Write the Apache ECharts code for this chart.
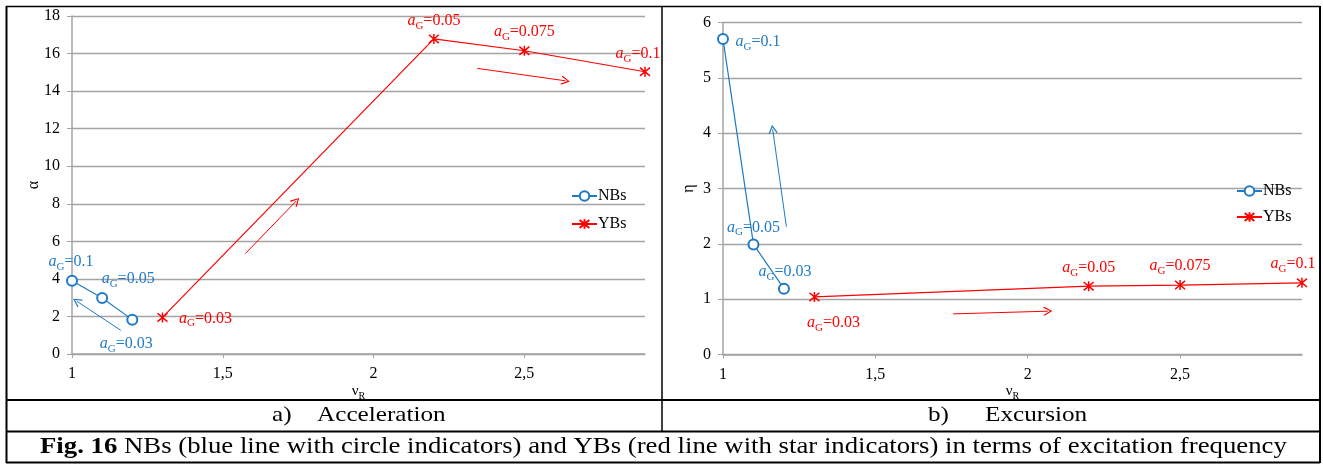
<!DOCTYPE html>
<html><head><meta charset="utf-8">
<script src="https://cdn.jsdelivr.net/npm/echarts@6/dist/echarts.min.js"></script>
<style>html,body{margin:0;padding:0;background:#fff}#c{width:1323px;height:464px}</style>
</head><body><div id="c"></div>
<script>
// ---- data ----
const nbsX = [1, 1.1, 1.2];
const nbsAG = ['0.1', '0.05', '0.03'];
const nbsAlpha = [3.9, 2.98, 1.83];
const nbsEta = [5.7, 1.99, 1.19];

const ybsX = [1.3, 2.2, 2.5, 2.9];
const ybsAG = ['0.03', '0.05', '0.075', '0.1'];
const ybsAlpha = [1.95, 16.78, 16.15, 15.03];
const ybsEta = [1.04, 1.235, 1.255, 1.295];

const xTicks = [1, 1.5, 2, 2.5];
const alphaTicks = [0, 2, 4, 6, 8, 10, 12, 14, 16, 18];
const etaTicks = [0, 1, 2, 3, 4, 5, 6];

// arrow annotations (data coordinates: from -> to)
const alphaArrowsNB = [[[1.162, 1.26], [1.016, 2.81]]];
const alphaArrowsYB = [[[1.575, 5.35], [1.743, 8.14]], [[2.344, 15.21], [2.636, 14.55]]];
const etaArrowsNB = [[[1.208, 2.31], [1.163, 4.07]]];
const etaArrowsYB = [[[1.755, 0.734], [2.066, 0.783]]];

// label offsets (px) relative to each marker
const nbsAlphaLblOff = [[-1, -19], [26, -19], [-6, 24]];
const ybsAlphaLblOff = [[43, 1], [0, -18], [0, -19], [-7, -18]];
const nbsEtaLblOff = [[35, 3], [0, -17], [1, -17]];
const ybsEtaLblOff = [[19, 26], [0, -18], [0, -19], [-9, -19]];

// ---- styles ----
const BLUE = '#1f7ac6';
const RED = '#ff0000';
const FONT = '"Liberation Serif", "Times New Roman", serif';
const GRID = '#a3a3a3';
const STAR = 'path://M0,0 L10,10 M10,0 L0,10 M5,-1 L5,11';
const CHEV = 'path://M5,0 L10,9 L9,10 L5,2.6 L1,10 L0,9 Z';

const lblRich = {
  i: {fontFamily: FONT, fontSize: 16, fontStyle: 'italic', lineHeight: 20},
  s: {fontFamily: FONT, fontSize: 11, lineHeight: 10, padding: [10, 0, 0, 0]},
  n: {fontFamily: FONT, fontSize: 16, lineHeight: 20}
};

function items(xs, ys, ags, offs, color) {
  return xs.map((x, k) => ({
    value: [x, ys[k]],
    label: {
      show: true, position: 'inside', offset: offs[k], color: color,
      formatter: '{i|a}{s|G}{n|=' + ags[k] + '}', rich: lblRich
    }
  }));
}
function arrows(list, color) {
  return {
    silent: true, animation: false,
    symbol: ['none', CHEV], symbolSize: [9, 9],
    lineStyle: {color: color, width: 1, type: 'solid'},
    label: {show: false}, emphasis: {disabled: true},
    data: list.map(a => [{coord: a[0]}, {coord: a[1]}])
  };
}
function xAxis(gi) {
  return {
    type: 'value', gridIndex: gi, min: 1, max: 2.9, interval: 0.5,
    name: '{v|ν}{r|R}', nameLocation: 'middle', nameGap: 28, nameMoveOverlap: false,
    nameTextStyle: {rich: {
      v: {fontFamily: FONT, fontSize: 15, color: '#000', lineHeight: 18},
      r: {fontFamily: FONT, fontSize: 10, color: '#000', lineHeight: 8, padding: [10, 0, 0, 0]}
    }},
    axisLine: {show: true, lineStyle: {color: GRID, width: 1.5}},
    axisTick: {show: true, length: 4, lineStyle: {color: GRID}, customValues: xTicks},
    axisLabel: {customValues: xTicks, fontFamily: FONT, fontSize: 16, color: '#000', margin: 12,
      formatter: v => String(v).replace('.', ',')},
    splitLine: {show: false}
  };
}
function yAxis(gi, max, interval, ticks, name, gap) {
  return {
    type: 'value', gridIndex: gi, min: 0, max: max, interval: interval,
    name: name, nameLocation: 'middle', nameGap: gap, nameRotate: 90, nameMoveOverlap: false,
    nameTextStyle: {fontFamily: FONT, fontSize: 16, color: '#000'},
    axisLine: {show: true, lineStyle: {color: GRID, width: 1.5}},
    axisTick: {show: true, length: 5, lineStyle: {color: GRID}, customValues: ticks},
    axisLabel: {customValues: ticks, fontFamily: FONT, fontSize: 16, color: '#000', margin: 12},
    splitLine: {show: true, lineStyle: {color: GRID, width: 1.3}}
  };
}
function nbSeries(xi, data, arr) {
  return {
    name: 'NBs', type: 'line', xAxisIndex: xi, yAxisIndex: xi, data: data,
    symbol: 'emptyCircle', symbolSize: 10, showSymbol: true,
    lineStyle: {color: BLUE, width: 1.2},
    itemStyle: {color: BLUE, borderColor: BLUE, borderWidth: 1.3},
    emphasis: {disabled: true}, animation: false, z: 3,
    markLine: arrows(arr, BLUE)
  };
}
function ybSeries(xi, data, arr) {
  return {
    name: 'YBs', type: 'line', xAxisIndex: xi, yAxisIndex: xi, data: data,
    symbol: STAR, symbolSize: 10, showSymbol: true,
    lineStyle: {color: RED, width: 1.2},
    itemStyle: {color: RED, borderColor: RED, borderWidth: 1.5},
    emphasis: {disabled: true}, animation: false, z: 3,
    markLine: arrows(arr, RED)
  };
}
function legend(left, top, gap) {
  return {
    orient: 'vertical', left: left, top: top, itemWidth: 25, itemHeight: 12, itemGap: gap,
    selectedMode: false, data: ['NBs', 'YBs'],
    textStyle: {fontFamily: FONT, fontSize: 16, color: '#000', padding: [0, 0, 0, -4]}
  };
}

const L = (x1, y1, x2, y2, w) => ({type: 'line', silent: true,
  shape: {x1: x1, y1: y1, x2: x2, y2: y2}, style: {stroke: '#000', lineWidth: w}});
const T = (x, y, txt, size, extra) => ({type: 'text', x: x, y: y, scaleX: 1.2, silent: true,
  style: Object.assign({text: txt, font: size + 'px ' + FONT, fill: '#000', textVerticalAlign: 'middle'}, extra || {})});

const chart = echarts.init(document.getElementById('c'), null, {renderer: 'canvas'});
chart.setOption({
  backgroundColor: '#fff',
  animation: false,
  grid: [
    {left: 72, top: 16, width: 573, height: 338},
    {left: 723, top: 22.5, width: 579, height: 332}
  ],
  xAxis: [xAxis(0), xAxis(1)],
  yAxis: [yAxis(0, 18, 2, alphaTicks, 'α', 30), yAxis(1, 6, 1, etaTicks, 'η', 26)],
  legend: [legend(566, 183, 12), legend(1231, 178, 10)],
  series: [
    nbSeries(0, items(nbsX, nbsAlpha, nbsAG, nbsAlphaLblOff, BLUE), alphaArrowsNB),
    ybSeries(0, items(ybsX, ybsAlpha, ybsAG, ybsAlphaLblOff, RED), alphaArrowsYB),
    nbSeries(1, items(nbsX, nbsEta, nbsAG, nbsEtaLblOff, BLUE), etaArrowsNB),
    ybSeries(1, items(ybsX, ybsEta, ybsAG, ybsEtaLblOff, RED), etaArrowsYB)
  ],
  graphic: [
    L(6, 6.5, 1320, 6.5, 1.5),
    L(6.5, 6, 6.5, 463, 2),
    L(1320, 6, 1320, 463, 2),
    L(662, 6, 662, 431, 1.5),
    L(6, 400, 1320, 400, 2),
    L(6, 431.5, 1320, 431.5, 2),
    L(6, 462.5, 1320, 462.5, 2),
    T(272, 415, 'a)', 21),
    T(317, 415, 'Acceleration', 21),
    T(928, 415, 'b)', 21),
    T(985, 415, 'Excursion', 21),
    T(40, 447, '{b|Fig. 16} NBs (blue line with circle indicators) and YBs (red line with star indicators) in terms of excitation frequency', 22.3,
      {rich: {b: {font: 'bold 22.3px ' + FONT, fill: '#000'}}})
  ]
});
</script>
</body></html>
